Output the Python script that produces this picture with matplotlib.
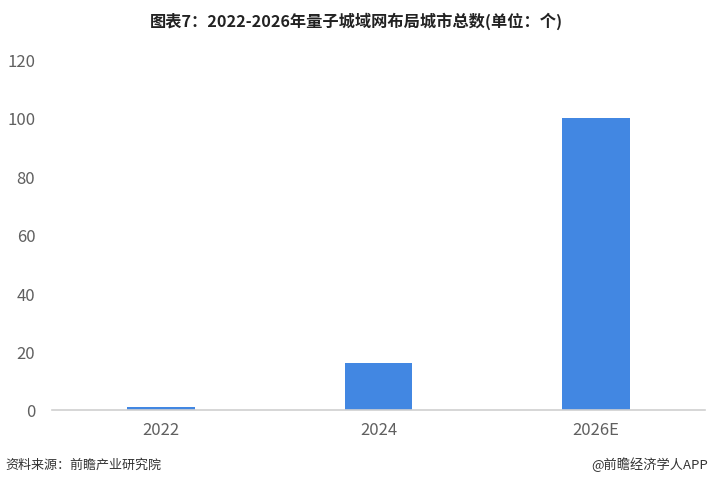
import matplotlib
matplotlib.use('Agg')
import matplotlib.pyplot as plt

plt.rcParams['font.family'] = ['Noto Sans CJK SC', 'DejaVu Sans']

years = ['2022', '2024', '2026E']
cities = [1, 16, 100]
yticks = [0, 20, 40, 60, 80, 100, 120]

fig = plt.figure(figsize=(7.12, 4.85), dpi=100)
ax = fig.add_axes([0.073, 0.1526, 0.917, 0.7234])

x = range(len(years))
ax.bar(x, cities, width=0.31, color='#4287e2', zorder=2)
ax.set_xlim(-0.5, 2.5)
ax.set_ylim(0, 120)
ax.set_yticks(yticks)
ax.set_xticks(list(x))
ax.set_xticklabels(years)

for s in ['top', 'right', 'left']:
    ax.spines[s].set_visible(False)
ax.spines['bottom'].set_color('#d0d0d0')
ax.spines['bottom'].set_linewidth(1.2)
ax.tick_params(axis='both', length=0, labelsize=12, colors='#606060')
ax.tick_params(axis='y', pad=12)
ax.tick_params(axis='x', pad=8)

fig.text(0.5, 0.957, '图表7：2022-2026年量子城域网布局城市总数(单位：个)',
         ha='center', va='center', fontsize=11.7, fontweight='bold', color='#222222')
fig.text(0.008, 0.041, '资料来源：前瞻产业研究院', ha='left', va='center',
         fontsize=9.4, color='#333333')
fig.text(0.995, 0.041, '@前瞻经济学人APP', ha='right', va='center',
         fontsize=9.5, color='#333333')

fig.savefig('out.png', dpi=100)
